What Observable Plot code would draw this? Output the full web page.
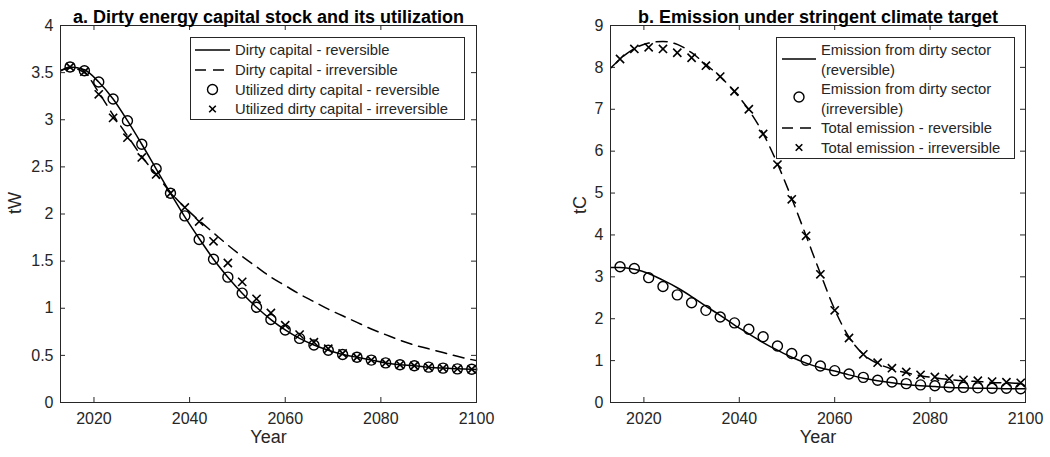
<!DOCTYPE html>
<html><head><meta charset="utf-8">
<script src="https://cdn.jsdelivr.net/npm/d3@7"></script>
<script src="https://cdn.jsdelivr.net/npm/@observablehq/plot@0.6"></script>
<style>
body{margin:0;background:#fff;}
#wrap{position:relative;width:1050px;height:457px;display:flex;}
#wrap > div{width:525px;height:457px;}
svg{display:block}
#legend{position:absolute;left:0;top:0;pointer-events:none;}
</style></head><body>
<div id="wrap"><div id="a"></div><div id="b"></div><svg id="legend" width="1050" height="457"></svg></div>
<script>
// ---------- data ----------
const markerYears = [2015,2018,2021,2024,2027,2030,2033,2036,2039,2042,2045,2048,2051,2054,2057,2060,2063,2066,2069,2072,2075,2078,2081,2084,2087,2090,2093,2096,2099];
const lineYears = [2013,2015,2018,2021,2024,2027,2030,2033,2036,2039,2042,2045,2048,2051,2054,2057,2060,2063,2066,2069,2072,2075,2078,2081,2084,2087,2090,2093,2096,2099,2100];
const xTicks = [2020,2040,2060,2080,2100];
const yTicksA = [0,0.5,1,1.5,2,2.5,3,3.5,4];
const yTicksB = [0,1,2,3,4,5,6,7,8,9];

// Panel a (tW)
const capitalReversible = [3.52,3.56,3.53,3.40,3.22,2.99,2.74,2.48,2.22,1.97,1.74,1.52,1.33,1.16,1.01,0.88,0.77,0.68,0.61,0.555,0.51,0.48,0.45,0.42,0.40,0.39,0.375,0.365,0.357,0.353,0.35];
const capitalIrreversible = [3.52,3.55,3.50,3.29,3.05,2.83,2.61,2.42,2.23,2.07,1.93,1.80,1.67,1.55,1.44,1.33,1.24,1.15,1.07,0.99,0.92,0.85,0.78,0.72,0.66,0.61,0.57,0.53,0.49,0.455,0.445];
const utilizedReversible = [3.56,3.52,3.40,3.22,2.99,2.74,2.48,2.22,1.98,1.73,1.52,1.33,1.16,1.01,0.88,0.77,0.68,0.61,0.555,0.51,0.48,0.45,0.42,0.40,0.39,0.375,0.365,0.357,0.353];
const utilizedIrreversible = [3.56,3.51,3.27,3.02,2.81,2.60,2.42,2.22,2.07,1.92,1.71,1.48,1.28,1.10,0.95,0.82,0.72,0.64,0.57,0.52,0.48,0.45,0.42,0.40,0.39,0.375,0.365,0.357,0.353];

// Panel b (tC)
const dirtyEmissionReversible = [3.22,3.22,3.18,3.08,2.92,2.74,2.53,2.30,2.08,1.85,1.64,1.43,1.25,1.08,0.94,0.83,0.75,0.66,0.58,0.52,0.47,0.43,0.40,0.38,0.36,0.35,0.34,0.34,0.33,0.33,0.33];
const dirtyEmissionIrreversible = [3.24,3.20,2.98,2.77,2.57,2.38,2.20,2.04,1.90,1.75,1.57,1.35,1.17,1.01,0.87,0.76,0.68,0.60,0.53,0.49,0.45,0.42,0.40,0.37,0.36,0.35,0.34,0.34,0.33];
const totalEmissionReversible = [7.98,8.20,8.45,8.58,8.62,8.55,8.35,8.07,7.78,7.42,6.98,6.42,5.70,4.87,3.98,3.08,2.22,1.56,1.15,0.93,0.80,0.71,0.64,0.59,0.55,0.52,0.50,0.48,0.47,0.46,0.46];
const totalEmissionIrreversible = [8.20,8.44,8.48,8.44,8.35,8.23,8.04,7.78,7.43,7.00,6.41,5.68,4.85,3.98,3.06,2.20,1.54,1.15,0.95,0.82,0.73,0.66,0.61,0.57,0.54,0.52,0.50,0.485,0.47];

// ---------- style ----------
const FONT = '"Liberation Sans", Arial, Helvetica, sans-serif';
const INK = "#262626";
const DASH = "11,7";
const zip = (xs, ys) => xs.map((x, i) => ({x, y: ys[i]}));

function panel({title, ylabel, yDomain, yTicks, ml, mr, ylabelDx, series}) {
  const W = 525, H = 457, mt = 25, mb = 55;
  const fw = W - ml - mr, fh = H - mt - mb;
  const marks = [];
  for (const s of series) {
    if (s.type === "line") {
      marks.push(Plot.line(zip(s.x, s.y), {x: "x", y: "y", stroke: "black", strokeWidth: 1.5,
        strokeDasharray: s.dash ? DASH : null, curve: "monotone-x", clip: true}));
    } else if (s.type === "circle") {
      marks.push(Plot.dot(zip(s.x, s.y), {x: "x", y: "y", r: 5, stroke: "black", strokeWidth: 1.4, fill: "none"}));
    } else {
      marks.push(Plot.dot(zip(s.x, s.y), {x: "x", y: "y", symbol: "times", r: 3.8, stroke: "black", strokeWidth: 1.6}));
    }
  }
  return Plot.plot({
    width: W, height: H, marginLeft: ml, marginRight: mr, marginTop: mt, marginBottom: mb,
    style: {fontFamily: FONT, fontSize: "16px", color: INK, background: "white", overflow: "visible"},
    x: {domain: [2013, 2100]},
    y: {domain: yDomain},
    marks: [
      Plot.ruleX(xTicks, {x: d => d, insetTop: fh - 5, stroke: INK}),
      Plot.ruleX(xTicks, {x: d => d, insetBottom: fh - 5, stroke: INK}),
      Plot.ruleY(yTicks, {y: d => d, insetRight: fw - 5, stroke: INK}),
      Plot.ruleY(yTicks, {y: d => d, insetLeft: fw - 5, stroke: INK}),
      ...marks,
      Plot.frame({stroke: INK, strokeWidth: 1}),
      Plot.axisX(xTicks, {tickSize: 0, tickPadding: 10, label: null, tickFormat: d => String(d), fill: INK, fontSize: 16}),
      Plot.axisY(yTicks, {tickSize: 0, tickPadding: 7, label: null, tickFormat: d => String(d), fill: INK, fontSize: 16}),
      Plot.text([title], {text: d => d, frameAnchor: "top", dy: -15, fontWeight: "bold", fontSize: 18, fill: "black"}),
      Plot.text(["Year"], {text: d => d, frameAnchor: "bottom", dy: 40, fontSize: 18, fill: INK}),
      Plot.text([ylabel], {text: d => d, frameAnchor: "left", dx: ylabelDx, rotate: -90, fontSize: 18, fill: INK})
    ]
  });
}

document.getElementById("a").append(panel({
  title: "a. Dirty energy capital stock and its utilization",
  ylabel: "tW", yDomain: [0, 4], yTicks: yTicksA, ml: 60, mr: 49, ylabelDx: -45,
  series: [
    {type: "line", x: lineYears, y: capitalReversible},
    {type: "line", x: lineYears, y: capitalIrreversible, dash: true},
    {type: "circle", x: markerYears, y: utilizedReversible},
    {type: "times", x: markerYears, y: utilizedIrreversible}
  ]
}));

document.getElementById("b").append(panel({
  title: "b. Emission under stringent climate target",
  ylabel: "tC", yDomain: [0, 9], yTicks: yTicksB, ml: 85, mr: 25, ylabelDx: -30,
  series: [
    {type: "line", x: lineYears, y: dirtyEmissionReversible},
    {type: "circle", x: markerYears, y: dirtyEmissionIrreversible},
    {type: "line", x: lineYears, y: totalEmissionReversible, dash: true},
    {type: "times", x: markerYears, y: totalEmissionIrreversible}
  ]
}));

// ---------- legends ----------
const legendA = ["Dirty capital - reversible", "Dirty capital - irreversible", "Utilized dirty capital - reversible", "Utilized dirty capital - irreversible"];
const legendB = [["Emission from dirty sector", "(reversible)"], ["Emission from dirty sector", "(irreversible)"], ["Total emission - reversible"], ["Total emission - irreversible"]];

const lg = d3.select("#legend").style("font-family", FONT);
function sample(g, kind, x0, x1, y) {
  const cx = (x0 + x1) / 2;
  if (kind === "line" || kind === "dash") {
    g.append("line").attr("x1", x0).attr("x2", x1).attr("y1", y).attr("y2", y)
      .attr("stroke", "black").attr("stroke-width", 1.5).attr("stroke-dasharray", kind === "dash" ? DASH : null);
  } else if (kind === "circle") {
    g.append("circle").attr("cx", cx).attr("cy", y).attr("r", 5).attr("fill", "none").attr("stroke", "black").attr("stroke-width", 1.4);
  } else {
    const s = 3.3;
    g.append("path").attr("d", `M${cx - s},${y - s}L${cx + s},${y + s}M${cx - s},${y + s}L${cx + s},${y - s}`)
      .attr("stroke", "black").attr("stroke-width", 1.6);
  }
}
// legend a
{
  const g = lg.append("g");
  g.append("rect").attr("x", 190.5).attr("y", 37.5).attr("width", 274).attr("height", 82).attr("fill", "white").attr("stroke", INK);
  const kinds = ["line", "dash", "circle", "times"];
  const ys = [50, 70, 89.5, 109];
  legendA.forEach((t, i) => {
    sample(g, kinds[i], 195, 230, ys[i]);
    g.append("text").attr("x", 235).attr("y", ys[i]).attr("dy", "0.35em").attr("font-size", 14.8).attr("fill", INK).text(t);
  });
}
// legend b
{
  const g = lg.append("g");
  g.append("rect").attr("x", 776.5).attr("y", 37.5).attr("width", 238).attr("height", 121).attr("fill", "white").attr("stroke", INK);
  const kinds = ["line", "circle", "dash", "times"];
  const rowYs = [[50, 69.5], [89, 108.5], [128], [147.5]];
  const sampleYs = [59, 97, 128, 147.5];
  legendB.forEach((lines, i) => {
    sample(g, kinds[i], 782, 816, sampleYs[i]);
    lines.forEach((t, j) => {
      g.append("text").attr("x", 821).attr("y", rowYs[i][j]).attr("dy", "0.35em").attr("font-size", 14.8).attr("fill", INK).text(t);
    });
  });
}
</script>
</body></html>
